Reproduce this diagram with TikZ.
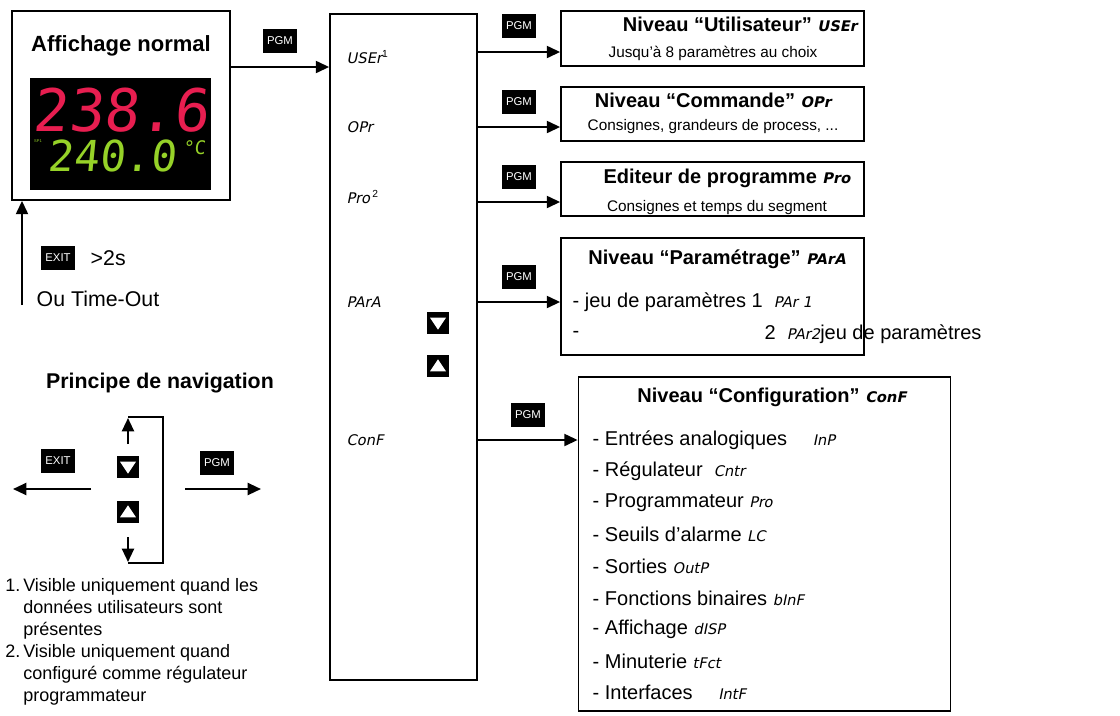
\documentclass[tikz,border=0pt]{standalone}
\usepackage{fontspec}
\setmainfont{Liberation Sans}
\newfontfamily\segfont[FakeSlant=0.2]{DejaVu Sans}
\newfontfamily\digfont[FakeSlant=0.1]{DejaVu Sans Mono}
\usetikzlibrary{arrows.meta,calc}
\definecolor{ledred}{RGB}{232,30,80}
\definecolor{ledgreen}{RGB}{150,210,40}
\tikzset{
 key/.style={fill=black,text=white,font=\fontsize{8.5}{10}\selectfont,inner sep=3pt,minimum height=18pt},
 btn/.style={fill=black,minimum size=17pt,inner sep=0pt},
 frame/.style={draw,line width=1.3pt},
 conn/.style={line width=1.6pt,-{Triangle[length=10pt,width=9pt]}},
 seg/.style={font=\segfont\fontsize{11}{12}\selectfont,anchor=west},
 ttl/.style={font=\bfseries\fontsize{15}{17}\selectfont},
 body/.style={font=\fontsize{15}{17}\selectfont,anchor=west},
}
\newcommand{\sg}[1]{{\segfont\fontsize{11}{12}\selectfont #1}}
\begin{document}
\begin{tikzpicture}[x=0.75pt,y=-0.75pt]
\useasboundingbox (0,0) rectangle (1120,715);
% normal display
\node[frame,minimum width=218*0.75pt,minimum height=189*0.75pt,inner sep=0pt] (disp) at (121,105.5) {};
\node[font=\bfseries\fontsize{16.5}{18}\selectfont] (dtitle) at (121,46) {Affichage normal};
\fill[black] (30,78) rectangle (211,190);
\node[text=ledred,font=\digfont\fontsize{44}{44}\selectfont] (big) at (121,110) {238.6};
\node[text=ledgreen,font=\digfont\fontsize{32}{32}\selectfont] (small) at (112,156) {240.0};
\node[text=ledgreen,font=\digfont\fontsize{14}{14}\selectfont] (unit) at (194,148) {°C};
\node[text=ledgreen,font=\fontsize{3}{3}\selectfont] (sp) at (38,141) {SP1};
% middle column
\node[frame,minimum width=147*0.75pt,minimum height=666*0.75pt,inner sep=0pt] (col) at (403.5,347) {};
\node[key] (k0) at (280,41) {PGM};
\draw[conn] (disp.east |- 0,67) -- (col.west |- 0,67);
\node[seg] (u) at (342,57) {USEr\textsuperscript{\rmfamily 1}};
\node[seg] (o) at (342,127) {OPr};
\node[seg] (p) at (342,197) {Pro\,\textsuperscript{\rmfamily 2}};
\node[seg] (a) at (342,302) {PArA};
\node[seg] (c) at (342,440) {ConF};
\node[btn] (up) at (438,323) {};
\fill[white] ($(up)+(-6pt,4pt)$) -- ($(up)+(6pt,4pt)$) -- ($(up)+(0,-5pt)$) -- cycle;
\node[btn] (dn) at (438,366) {};
\fill[white] ($(dn)+(-6pt,-4pt)$) -- ($(dn)+(6pt,-4pt)$) -- ($(dn)+(0,5pt)$) -- cycle;
% right boxes
\node[frame,minimum width=303*0.75pt,minimum height=55*0.75pt,inner sep=0pt] (b1) at (712.5,38.5) {};
\node[ttl] at (740,24) {Niveau “Utilisateur” \sg{USEr}};
\node[font=\fontsize{11.5}{13}\selectfont] at (713,53) {Jusqu’à 8 paramètres au choix};
\node[frame,minimum width=303*0.75pt,minimum height=54*0.75pt,inner sep=0pt] (b2) at (712.5,114) {};
\node[ttl] at (713,100) {Niveau “Commande” \sg{OPr}};
\node[font=\fontsize{11.5}{13}\selectfont] at (713,127) {Consignes, grandeurs de process, ...};
\node[frame,minimum width=303*0.75pt,minimum height=54*0.75pt,inner sep=0pt] (b3) at (712.5,189) {};
\node[ttl] at (727,178) {Editeur de programme \sg{Pro}};
\node[font=\fontsize{11.5}{13}\selectfont] at (717,208) {Consignes et temps du segment};
\node[frame,minimum width=303*0.75pt,minimum height=117*0.75pt,inner sep=0pt] (b4) at (712.5,296.5) {};
\node[ttl] at (717,259) {Niveau “Paramétrage” \sg{PArA}};
\node[body] at (568,302) {- jeu de paramètres 1 \ \sg{PAr 1}};
\node[body] at (568,334) {-};
\node[body] at (760,334) {2 \ \sg{PAr2}jeu de paramètres};
\node[frame,minimum width=372*0.75pt,minimum height=334*0.75pt,inner sep=0pt] (b5) at (764.5,544) {};
\node[ttl] at (772,397) {Niveau “Configuration” \sg{ConF}};
\foreach \y/\t in {440/{- Entrées analogiques \quad \sg{InP}},471/{- Régulateur \ \sg{Cntr}},503/{- Programmateur \sg{Pro}},534/{- Seuils d’alarme \sg{LC}},566/{- Sorties \sg{OutP}},598/{- Fonctions binaires \sg{bInF}},629/{- Affichage \sg{dISP}},661/{- Minuterie \sg{tFct}},692/{- Interfaces \quad \sg{IntF}}}
  \node[body] at (588,\y) {\t};
\node[key] at (519,26) {PGM};
\node[key] at (519,102) {PGM};
\node[key] at (519,177) {PGM};
\node[key] at (519,277) {PGM};
\node[key] at (528,415) {PGM};
\draw[conn] (col.east |- 0,52) -- (b1.west |- 0,52);
\draw[conn] (col.east |- 0,127) -- (b2.west |- 0,127);
\draw[conn] (col.east |- 0,202) -- (b3.west |- 0,202);
\draw[conn] (col.east |- 0,302) -- (b4.west |- 0,302);
\draw[conn] (col.east |- 0,440) -- (b5.west |- 0,440);
% exit back
\coordinate (e0) at (22,305);
\draw[conn] (e0) -- (e0 |- disp.south);
\node[key] (ke) at (58,258) {EXIT};
\node[font=\fontsize{16}{18}\selectfont,anchor=west] at (86,258) {>2s};
\node[font=\fontsize{16}{18}\selectfont,anchor=west] at (32,299) {Ou Time-Out};
% navigation
\node[font=\bfseries\fontsize{16}{18}\selectfont] at (160,383) {Principe de navigation};
\draw[line width=1.3pt] (128,417) -- (163,417) -- (163,563) -- (128,563);
\node[btn] (nup) at (128,467) {};
\fill[white] ($(nup)+(-6pt,4pt)$) -- ($(nup)+(6pt,4pt)$) -- ($(nup)+(0,-5pt)$) -- cycle;
\node[btn] (ndn) at (128,512) {};
\fill[white] ($(ndn)+(-6pt,-4pt)$) -- ($(ndn)+(6pt,-4pt)$) -- ($(ndn)+(0,5pt)$) -- cycle;
\coordinate (ua) at (128,444); \coordinate (ub) at (128,418);
\coordinate (da) at (128,537); \coordinate (db) at (128,562);
\draw[conn] (ua) -- (ub);
\draw[conn] (da) -- (db);
\node[key] at (58,461) {EXIT};
\node[key] at (217,463) {PGM};
\coordinate (nl0) at (91,489); \coordinate (nl1) at (13,489);
\coordinate (nr0) at (185,489); \coordinate (nr1) at (261,489);
\draw[conn] (nl0) -- (nl1);
\draw[conn] (nr0) -- (nr1);
% footnotes
\node[anchor=north west,align=left,font=\fontsize{13.5}{16.6}\selectfont,inner sep=0pt] at (5,578)
{1.\,Visible uniquement quand les\\\hphantom{1.\,}données utilisateurs sont\\\hphantom{1.\,}présentes\\2.\,Visible uniquement quand\\\hphantom{2.\,}configuré comme régulateur\\\hphantom{2.\,}programmateur};
\end{tikzpicture}
\end{document}
